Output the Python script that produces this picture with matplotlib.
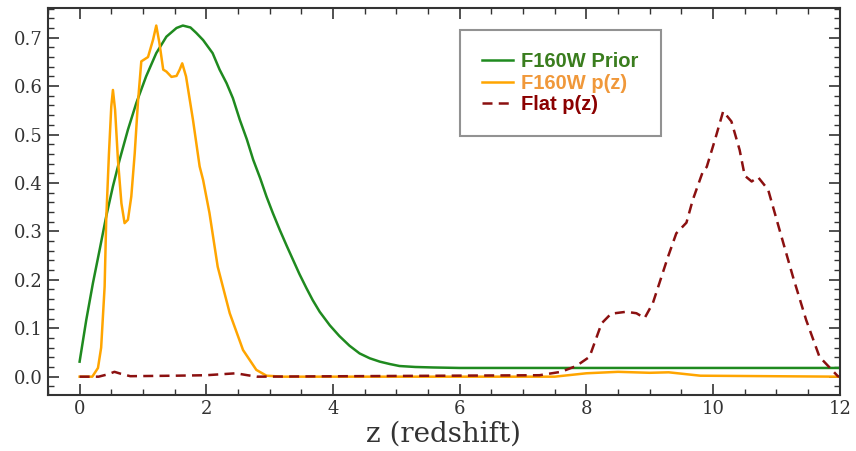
import matplotlib
matplotlib.use("Agg")
import matplotlib.pyplot as plt
from matplotlib.ticker import MultipleLocator

# -----------------------------
# Data
# -----------------------------
z_prior = [0.0, 0.105, 0.21, 0.316, 0.42, 0.526, 0.632, 0.763, 0.895, 1.05, 1.21,
           1.37, 1.53, 1.63, 1.75, 1.84, 1.95, 2.1, 2.21, 2.32, 2.42, 2.53, 2.64, 2.74,
           2.85, 2.95, 3.05, 3.16, 3.27, 3.37, 3.47, 3.58, 3.68, 3.79, 3.95, 4.1, 4.26,
           4.42, 4.58, 4.74, 4.9, 5.05, 5.3, 5.58, 6.0, 6.63, 8.0, 10.0, 12.0]
prior = [0.031, 0.117, 0.193, 0.262, 0.331, 0.393, 0.448, 0.51, 0.565, 0.62, 0.668,
         0.702, 0.72, 0.725, 0.721, 0.71, 0.695, 0.668, 0.634, 0.606, 0.575, 0.53, 0.49,
         0.448, 0.41, 0.372, 0.338, 0.303, 0.27, 0.241, 0.212, 0.183, 0.158, 0.134, 0.106,
         0.084, 0.064, 0.048, 0.038, 0.031, 0.026, 0.022, 0.02, 0.019, 0.018, 0.018,
         0.018, 0.018, 0.018]

z_pz = [0.0, 0.2, 0.29, 0.34, 0.395, 0.42, 0.463, 0.5, 0.526, 0.56, 0.605, 0.66,
        0.71, 0.763, 0.816, 0.87, 0.92, 0.974, 1.08, 1.16, 1.21, 1.26, 1.32, 1.37,
        1.45, 1.53, 1.58, 1.62, 1.68, 1.79, 1.895, 1.95, 2.05, 2.18, 2.37, 2.58,
        2.79, 2.95, 3.2, 7.5, 8.0, 8.5, 9.0, 9.3, 9.8, 12.0]
pz = [0.0, 0.0, 0.018, 0.06, 0.186, 0.324, 0.46, 0.558, 0.592, 0.551, 0.448, 0.358,
      0.317, 0.324, 0.372, 0.461, 0.565, 0.651, 0.66, 0.696, 0.725, 0.689, 0.634, 0.63,
      0.619, 0.621, 0.634, 0.647, 0.62, 0.53, 0.434, 0.406, 0.338, 0.227, 0.131, 0.055,
      0.014, 0.002, 0.0, 0.0, 0.007, 0.01, 0.008, 0.009, 0.002, 0.0]

z_flat = [0.0, 0.3, 0.45, 0.55, 0.65, 0.8, 1.5, 2.0, 2.47, 2.65, 2.8, 7.26, 7.6, 7.84,
          8.05, 8.24, 8.39, 8.63, 8.79, 8.92, 9.05, 9.29, 9.42, 9.58, 9.68, 9.84, 9.9,
          10.03, 10.16, 10.29, 10.42, 10.5, 10.61, 10.71, 10.87, 11.05, 11.26, 11.47,
          11.68, 11.97, 12.0]
flat = [0.0, 0.0, 0.005, 0.01, 0.006, 0.001, 0.002, 0.003, 0.007, 0.003, 0.0, 0.003, 0.01,
        0.022, 0.041, 0.11, 0.13, 0.134, 0.131, 0.121, 0.152, 0.248, 0.296, 0.318, 0.365,
        0.424, 0.433, 0.489, 0.548, 0.527, 0.468, 0.415, 0.403, 0.412, 0.386, 0.303, 0.207,
        0.117, 0.041, 0.001, 0.0]

labels = ["F160W Prior", "F160W p(z)", "Flat p(z)"]
label_colors = ["#3a7d1e", "#f0983a", "#8b0000"]

# -----------------------------
# Figure and axes
# -----------------------------
plt.rcParams['font.family'] = 'DejaVu Serif'
fig = plt.figure(figsize=(8.56, 4.51), dpi=100)
ax = fig.add_axes([0.056, 0.124, 0.925, 0.858])

ax.plot(z_prior, prior, color='#1f8a1f', lw=1.8, label=labels[0])
ax.plot(z_pz, pz, color='orange', lw=1.8, label=labels[1])
ax.plot(z_flat, flat, color='#8b1010', lw=1.8, ls=(0, (4, 2.5)), label=labels[2])

ax.set_xlim(-0.5, 12.0)
ax.set_ylim(-0.038, 0.761)
ax.xaxis.set_major_locator(MultipleLocator(2))
ax.xaxis.set_minor_locator(MultipleLocator(0.5))
ax.yaxis.set_major_locator(MultipleLocator(0.1))
ax.yaxis.set_minor_locator(MultipleLocator(0.02))
ax.tick_params(which='both', direction='in', top=True, right=True,
               color='#333333', labelsize=13, labelcolor='#333333')
ax.tick_params(which='major', length=8, width=1.2)
ax.tick_params(which='minor', length=4, width=1.0)
for s in ax.spines.values():
    s.set_color('#333333')
    s.set_linewidth(1.5)

ax.set_xlabel("z (redshift)", fontsize=20, color='#333333', labelpad=2)

# -----------------------------
# Legend with coloured labels
# -----------------------------
leg = ax.legend(loc='upper left', bbox_to_anchor=(0.52, 0.943), borderaxespad=0,
                frameon=True, fancybox=False, edgecolor='#777777',
                prop={'family': 'Liberation Sans', 'weight': 'bold', 'size': 14.5},
                handlelength=1.55, handletextpad=0.4, borderpad=1.1, labelspacing=0.12)
leg.get_frame().set_linewidth(1.5)
for txt, c in zip(leg.get_texts(), label_colors):
    txt.set_color(c)

fig.savefig("out.png", dpi=100)
